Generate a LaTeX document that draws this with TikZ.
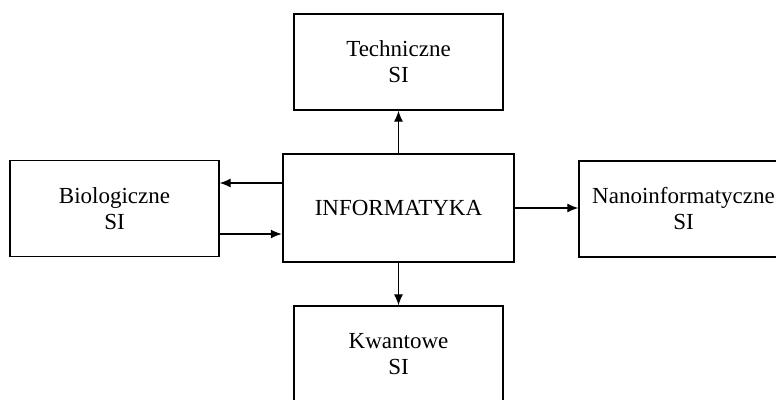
\documentclass[tikz,border=0pt]{standalone}
\usepackage{fontspec}
\setmainfont{Liberation Serif}
\usetikzlibrary{arrows.meta,calc}
\tikzset{
  sibox/.style={draw, line width=1.3pt, minimum width=209pt, minimum height=96pt,
    align=center, inner sep=0pt, font=\fontsize{23}{26}\selectfont},
  mainbox/.style={sibox, line width=2.5pt, minimum width=231pt, minimum height=108pt},
  arr/.style={line width=1.2pt, -{Latex[length=11pt,width=9pt]}},
}

\begin{document}
\begin{tikzpicture}[x=1pt, y=-1pt]
    % Frame
    \path[use as bounding box] (0,0) rectangle (776,399);
    \clip (0,0) rectangle (776,399);

    % Boxes
    \node[mainbox] (info) at (398.5, 208) {INFORMATYKA};
    \node[sibox] (tech) at (398.5, 62) {Techniczne\\SI};
    \node[sibox] (bio) at (114.5, 208.5) {Biologiczne\\SI};
    \node[sibox] (nano) at (683.5, 209) {Nanoinformatyczne\\SI};
    \node[sibox] (kwant) at (398.5, 354) {Kwantowe\\SI};

    % Arrows
    \draw[arr] (info.north) -- (tech.south);
    \draw[arr] (info.south) -- (kwant.north);
    \draw[arr] (info.east) -- (info.east -| nano.west);
    \draw[arr] ($(info.west)+(0,-25)$) coordinate (a1) -- (a1 -| bio.east);
    \draw[arr] ($(bio.east)+(0,25.5)$) coordinate (a2) -- (a2 -| info.west);
\end{tikzpicture}
\end{document}
